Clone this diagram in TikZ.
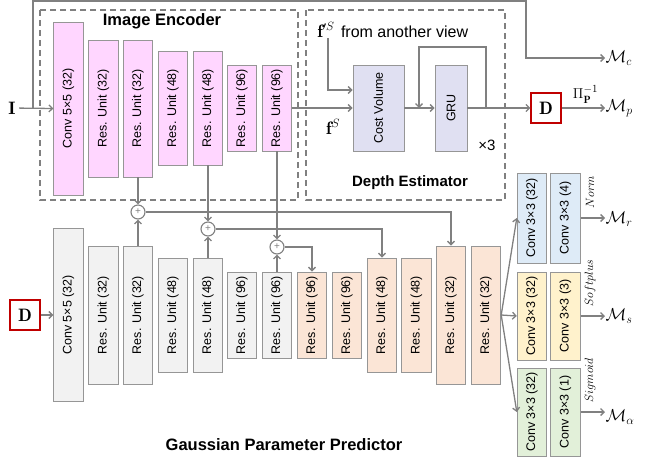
\documentclass[tikz,border=0pt]{standalone}
\usepackage{amsmath}
\usepackage{fontspec}
\setsansfont{Liberation Sans}
\usetikzlibrary{arrows.meta,positioning,calc}

\definecolor{lnGray}{RGB}{128,128,128}
\definecolor{bdGray}{RGB}{150,150,150}
\definecolor{encPink}{RGB}{255,214,255}
\definecolor{prdGray}{RGB}{242,242,242}
\definecolor{decPeach}{RGB}{251,229,214}
\definecolor{cvLav}{RGB}{224,224,242}
\definecolor{hdBlue}{RGB}{222,235,247}
\definecolor{hdYellow}{RGB}{255,242,204}
\definecolor{hdGreen}{RGB}{226,240,217}
\definecolor{dRed}{RGB}{192,0,0}

\begin{document}
\begin{tikzpicture}[x=1pt, y=-1pt,
	blk/.style={draw=bdGray, line width=0.9pt, inner sep=0pt, minimum width=29.5pt, font=\sffamily\fontsize{12.5}{14}\selectfont},
	enc/.style={blk, fill=encPink},
	prd/.style={blk, fill=prdGray},
	dec/.style={blk, fill=decPeach},
	conn/.style={draw=lnGray, line width=1.3pt},
	arr/.style={conn, -{Straight Barb[length=3.5pt,width=7pt]}},
	area/.style={draw=lnGray, line width=1.1pt, dash pattern=on 6pt off 4pt},
	ttl/.style={font=\sffamily\bfseries\fontsize{16.5}{18}\selectfont},
	dbox/.style={draw=dRed, line width=1.3pt, fill=white, minimum size=30pt, inner sep=0pt, font=\fontsize{18}{18}\selectfont},
	sumnode/.style={circle, draw=lnGray, line width=1.1pt, fill=white, minimum size=14pt, inner sep=0pt, text=lnGray, font=\sffamily\fontsize{10}{10}\selectfont},
	mlab/.style={anchor=west, inner sep=0.5pt, font=\fontsize{18}{18}\selectfont},
	fn/.style={rotate=90, inner sep=0pt, font=\fontsize{13}{14}\selectfont}
]
	\clip (0,0) rectangle (645,456);
	
	% dashed areas
	\draw[area] (40,10) rectangle (298,200);
	\draw[area] (306,10) rectangle (505,200);
	\node[ttl] (tenc) at (162,21) {Image Encoder};
	\node[font=\sffamily\bfseries\fontsize{15}{18}\selectfont] (tdep) at (410,183) {Depth Estimator};
	\node[ttl] (tgpp) at (284,445) {Gaussian Parameter Predictor};
	
	% image encoder
	\node[font=\fontsize{18}{18}\selectfont] (inI) at (12,108) {$\mathbf{I}$};
	\node[enc, minimum height=173pt] (ec0) at (68.5,108.5) {\rotatebox{90}{Conv 5×5 (32)}};
	\node[enc, minimum height=137pt] (er1) at (103.5,108.5) {\rotatebox{90}{Res. Unit (32)}};
	\node[enc, minimum height=137pt] (er2) at (138,108.5) {\rotatebox{90}{Res. Unit (32)}};
	\node[enc, minimum height=114pt] (er3) at (173,108) {\rotatebox{90}{Res. Unit (48)}};
	\node[enc, minimum height=114pt] (er4) at (208,108) {\rotatebox{90}{Res. Unit (48)}};
	\node[enc, minimum height=86pt] (er5) at (242,108) {\rotatebox{90}{Res. Unit (96)}};
	\node[enc, minimum height=86pt] (er6) at (277,108) {\rotatebox{90}{Res. Unit (96)}};
	
	% depth estimator
	\node[blk, fill=cvLav, minimum width=51pt, minimum height=86pt] (cv) at (378.5,108) {\rotatebox{90}{Cost Volume}};
	\node[blk, fill=cvLav, minimum width=32pt, minimum height=86pt] (gru) at (451,108) {\rotatebox{90}{GRU}};
	\node[inner sep=1pt, font=\fontsize{18}{18}\selectfont] (fp) at (326,30) {$\mathbf{f}'^{S}$};
	\node[anchor=base west, inner sep=1pt, font=\sffamily\fontsize{16}{18}\selectfont] (fptxt) at ([xshift=4pt]fp.base east) {from another view};
	\node[font=\fontsize{18}{18}\selectfont] (fs) at (333,127) {$\mathbf{f}^{S}$};
	\node[font=\sffamily\fontsize{15}{18}\selectfont] (rep) at (487,145) {×3};
	\node[dbox] (dp) at (546,108) {$\mathbf{D}$};
	\node[mlab] (mp) at (605,108) {$\mathcal{M}_p$};
	\node[mlab] (mc) at (605,58) {$\mathcal{M}_c$};
	\coordinate (split) at (33,108);
	\coordinate (topturn) at (526,1);
	\coordinate (gruout) at (486,108);
	\coordinate (gruin) at (419,108);
	
	% gaussian parameter predictor
	\node[dbox] (dg) at (25,315) {$\mathbf{D}$};
	\node[prd, minimum height=173pt] (pc0) at (68.5,315) {\rotatebox{90}{Conv 5×5 (32)}};
	\node[prd, minimum height=138pt] (pr1) at (103.5,315) {\rotatebox{90}{Res. Unit (32)}};
	\node[prd, minimum height=138pt] (pr2) at (138,315) {\rotatebox{90}{Res. Unit (32)}};
	\node[prd, minimum height=114pt] (pr3) at (173,315) {\rotatebox{90}{Res. Unit (48)}};
	\node[prd, minimum height=114pt] (pr4) at (208,315) {\rotatebox{90}{Res. Unit (48)}};
	\node[prd, minimum height=86pt] (pr5) at (242,315) {\rotatebox{90}{Res. Unit (96)}};
	\node[prd, minimum height=86pt] (pr6) at (277,315) {\rotatebox{90}{Res. Unit (96)}};
	\node[dec, minimum height=86pt] (dr1) at (312,315) {\rotatebox{90}{Res. Unit (96)}};
	\node[dec, minimum height=86pt] (dr2) at (347,315) {\rotatebox{90}{Res. Unit (96)}};
	\node[dec, minimum height=114pt] (dr3) at (382,315) {\rotatebox{90}{Res. Unit (48)}};
	\node[dec, minimum height=114pt] (dr4) at (416.5,315) {\rotatebox{90}{Res. Unit (48)}};
	\node[dec, minimum height=138pt] (dr5) at (451,315) {\rotatebox{90}{Res. Unit (32)}};
	\node[dec, minimum height=138pt] (dr6) at (486,315) {\rotatebox{90}{Res. Unit (32)}};
	\node[sumnode] (s1) at (138,212) {+};
	\node[sumnode] (s2) at (208,229) {+};
	\node[sumnode] (s3) at (277,247) {+};
	
	% heads
	\node[blk, fill=hdBlue, minimum height=90pt] (hr1) at (532,218) {\rotatebox{90}{Conv 3×3 (32)}};
	\node[blk, fill=hdBlue, minimum height=90pt] (hr2) at (565.5,218) {\rotatebox{90}{Conv 3×3 (4)}};
	\node[blk, fill=hdYellow, minimum height=88pt] (hs1) at (532,316) {\rotatebox{90}{Conv 3×3 (32)}};
	\node[blk, fill=hdYellow, minimum height=88pt] (hs2) at (565.5,316) {\rotatebox{90}{Conv 3×3 (3)}};
	\node[blk, fill=hdGreen, minimum height=88pt] (ha1) at (532,412) {\rotatebox{90}{Conv 3×3 (32)}};
	\node[blk, fill=hdGreen, minimum height=88pt] (ha2) at (565.5,412) {\rotatebox{90}{Conv 3×3 (1)}};
	\node[mlab] (mr) at (605,219) {$\mathcal{M}_r$};
	\node[mlab] (ms) at (605,316) {$\mathcal{M}_s$};
	\node[mlab] (ma) at (605,417) {$\mathcal{M}_\alpha$};
	\node[fn] (lnorm) at (590,192) {$Norm$};
	\node[fn] (lsoft) at (590,283) {$Softplus$};
	\node[fn] (lsig) at (590,380) {$Sigmoid$};
	
	% connectors
	\draw[arr] (inI) -- (ec0.west);
	\draw[arr] (split) |- (topturn) |- (mc.west);
	\draw[arr] (er6.east) -- (cv.west);
	\draw[arr] ([xshift=2pt]fp.south) |- ([yshift=18pt]cv.west);
	\draw[arr] (cv.east) -- (gru.west);
	\draw[arr] (gru.east) -- (dp.west);
	\draw[arr] (gruout) -- ++(0,-61) -| (gruin);
	\draw[arr] (dp.east) -- (dp.east -| mp.west) node[pos=0.55, above=1pt, font=\fontsize{15}{16}\selectfont] {$\Pi_{\mathbf{P}}^{-1}$};
	
	\draw[arr] (dg.east) -- (pc0.west);
	\draw[arr] (er2.south) -- (s1.north);
	\draw[arr] (er4.south) -- (s2.north);
	\draw[arr] (er6.south) -- (s3.north);
	\draw[arr] (pr2.north) -- (s1.south);
	\draw[arr] (pr4.north) -- (s2.south);
	\draw[arr] (pr6.north) -- (s3.south);
	\draw[arr] (s1.east) -| (dr5.north);
	\draw[arr] (s2.east) -| (dr3.north);
	\draw[arr] (s3.east) -| (dr1.north);
	
	\draw[arr] (dr6.east) -- (hr1.west);
	\draw[arr] (dr6.east) -- (hs1.west);
	\draw[arr] (dr6.east) -- (ha1.west);
	\draw[arr] (hr2.east) -- (hr2.east -| mr.west);
	\draw[arr] (hs2.east) -- (hs2.east -| ms.west);
	\draw[arr] (ha2.east) -- (ha2.east -| ma.west);
\end{tikzpicture}
\end{document}
